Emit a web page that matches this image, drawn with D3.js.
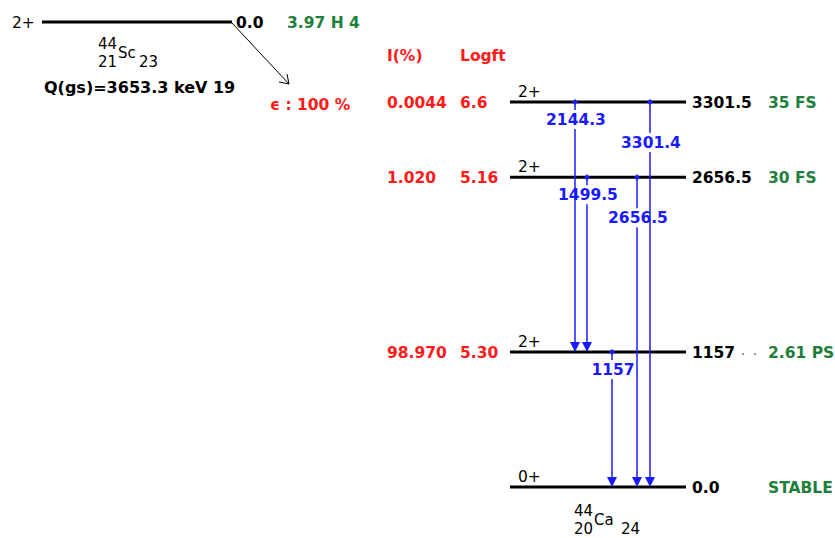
<!DOCTYPE html>
<html>
<head>
<meta charset="utf-8">
<script src="https://cdn.jsdelivr.net/npm/d3@7/dist/d3.min.js"></script>
<style>
  html, body { margin: 0; padding: 0; background: #fff; }
  svg { display: block; }
  text { font-family: "DejaVu Sans", Verdana, sans-serif; }
</style>
</head>
<body>
<svg id="chart" width="835" height="538"></svg>
<script>
// ---------- data ----------
const levelEnergies   = [0.0, 1157, 2656.5, 3301.5];
const levelLabels     = ["0.0", "1157", "2656.5", "3301.5"];
const levelSpins      = ["0+", "2+", "2+", "2+"];
const levelHalfLives  = ["STABLE", "2.61 PS", "30 FS", "35 FS"];
const levelIntensity  = ["", "98.970", "1.020", "0.0044"];
const levelLogft      = ["", "5.30", "5.16", "6.6"];

const gammaLabels = ["2144.3", "1499.5", "1157", "2656.5", "3301.4"];
const gammaFrom   = [3301.5, 2656.5, 1157, 2656.5, 3301.5];
const gammaTo     = [1157, 1157, 0.0, 0.0, 0.0];

const parentSpin = "2+";
const parentEnergy = "0.0";
const parentHalfLife = "3.97 H 4";
const parentQ = "Q(gs)=3653.3 keV 19";
const decayBranch = "ϵ : 100 %";

// ---------- layout ----------
const gammaColumns = [575, 587, 612, 637, 650];
const gammaLabelRow = [0, 0, 0, 1, 1];

const svg = d3.select("#chart");
const y = d3.scaleLinear().domain([0, 3301.5]).range([487, 102]);
const x0 = 510, x1 = 686;

const RED = "#ff1a1a", GREEN = "#1e7f3a", BLUE = "#1a1aff";
const FS = 15.5;

function txt(parent, x, yy, s, opts = {}) {
  return parent.append("text").attr("x", x).attr("y", yy)
    .style("font-size", (opts.size || FS) + "px")
    .style("font-weight", opts.weight || "bold")
    .attr("fill", opts.fill || "#000")
    .attr("text-anchor", opts.anchor || "start")
    .text(s);
}

// ---------- parent ----------
svg.append("line").attr("x1", 42).attr("x2", 232).attr("y1", 22).attr("y2", 22)
  .attr("stroke", "#000").attr("stroke-width", 3);
txt(svg, 12, 28, parentSpin, { weight: "normal" });
txt(svg, 236, 28, parentEnergy);
txt(svg, 287, 28, parentHalfLife, { fill: GREEN });

// nuclide Sc
const NS = 15;
txt(svg, 98, 49, "44", { size: NS, weight: "normal" });
txt(svg, 98, 67, "21", { size: NS, weight: "normal" });
txt(svg, 118, 58, "Sc", { size: NS, weight: "normal" });
txt(svg, 139, 67, "23", { size: NS, weight: "normal" });

txt(svg, 44, 93, parentQ, { size: 16 });

// decay arrow
svg.append("line").attr("x1", 232).attr("y1", 23).attr("x2", 289).attr("y2", 84)
  .attr("stroke", "#000").attr("stroke-width", 1);
svg.append("path").attr("d", "M279,82 L289,84 L287,74").attr("fill", "none").attr("stroke", "#000").attr("stroke-width", 1);
txt(svg, 270, 110, decayBranch, { fill: RED });

// column headers
txt(svg, 387, 61, "I(%)", { fill: RED });
txt(svg, 460, 61, "Logft", { fill: RED });

// ---------- levels ----------
const lv = svg.append("g").selectAll("g").data(levelEnergies).join("g")
  .attr("transform", d => `translate(0,${y(d)})`);
lv.append("line").attr("x1", x0).attr("x2", x1).attr("stroke", "#000").attr("stroke-width", 3);
lv.each(function(d, i) {
  const s = d3.select(this);
  txt(s, 518, -5, levelSpins[i], { weight: "normal" });
  txt(s, 692, 6, levelLabels[i]);
  txt(s, 768, 6, levelHalfLives[i], { fill: GREEN });
  txt(s, 387, 6, levelIntensity[i], { fill: RED });
  txt(s, 460, 6, levelLogft[i], { fill: RED });
  if (levelLabels[i] === "1157") {
    s.append("circle").attr("cx", 743).attr("cy", 2).attr("r", 1.1).attr("fill", "#888");
    s.append("circle").attr("cx", 755).attr("cy", 2).attr("r", 1.1).attr("fill", "#888");
  }
});

// ---------- gammas ----------
const g = svg.append("g").selectAll("g").data(gammaLabels).join("g");
g.each(function(lbl, i) {
  const sel = d3.select(this);
  const cx = gammaColumns[i];
  const ys = y(gammaFrom[i]), ye = y(gammaTo[i]);
  const row = gammaLabelRow[i];
  const ly = ys + (row === 0 ? 17 : 40);
  const gapTop = ly - 9, gapBot = ly + 10;
  sel.append("line").attr("x1", cx).attr("x2", cx).attr("y1", ys).attr("y2", gapTop)
    .attr("stroke", BLUE).attr("stroke-width", 1.5);
  sel.append("line").attr("x1", cx).attr("x2", cx).attr("y1", gapBot).attr("y2", ye - 9)
    .attr("stroke", BLUE).attr("stroke-width", 1.5);
  sel.append("path").attr("d", `M${cx},${ys - 3} L${cx + 3},${ys} L${cx},${ys + 3} L${cx - 3},${ys} Z`).attr("fill", BLUE);
  sel.append("path").attr("d", `M${cx - 5},${ye - 10} L${cx + 5},${ye - 10} L${cx},${ye} Z`).attr("fill", BLUE);
  txt(sel, cx + 1, ly + 6, lbl, { fill: BLUE, anchor: "middle" });
});

// nuclide Ca
txt(svg, 574, 516, "44", { size: NS, weight: "normal" });
txt(svg, 574, 534, "20", { size: NS, weight: "normal" });
txt(svg, 594, 525, "Ca", { size: NS, weight: "normal" });
txt(svg, 621, 534, "24", { size: NS, weight: "normal" });
</script>
</body>
</html>
